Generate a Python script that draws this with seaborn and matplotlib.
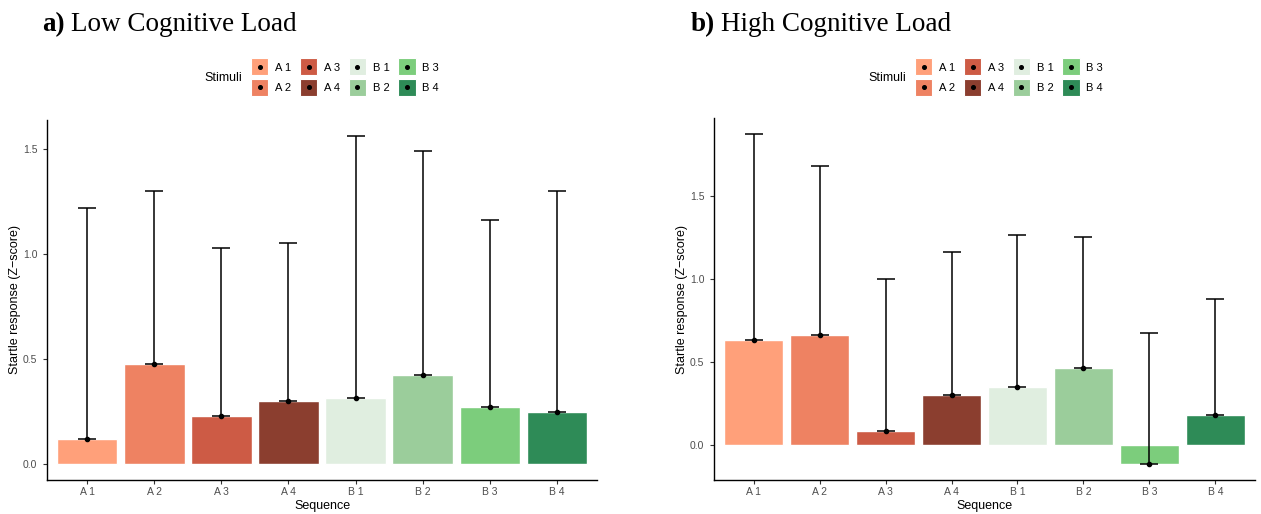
import matplotlib
matplotlib.use("Agg")
import matplotlib.pyplot as plt
import seaborn as sns
import pandas as pd
import numpy as np
from matplotlib.patches import Patch, Rectangle
from matplotlib.lines import Line2D
from matplotlib.legend_handler import HandlerBase

# ---- data ----
sequence = ["A 1", "A 2", "A 3", "A 4", "B 1", "B 2", "B 3", "B 4"]
low_mean = [0.118, 0.476, 0.225, 0.296, 0.311, 0.421, 0.272, 0.248]
low_upper = [1.215, 1.296, 1.027, 1.052, 1.558, 1.486, 1.162, 1.300]
high_mean = [0.636, 0.662, 0.087, 0.300, 0.348, 0.463, -0.109, 0.181]
high_upper = [1.868, 1.678, 0.998, 1.162, 1.264, 1.252, 0.676, 0.881]
colors = ["#FFA07A", "#EE8262", "#CD5B45", "#8B3E2F",
          "#E0EEE0", "#9BCD9B", "#7CCD7C", "#2E8B57"]
yticks = [0.0, 0.5, 1.0, 1.5]

sns.set_theme(style="white")
plt.rcParams['font.family'] = ['Liberation Sans', 'DejaVu Sans']
plt.rcParams['text.color'] = 'black'

fig = plt.figure(figsize=(12.61, 5.14), dpi=100)
W, H = 1261, 514
ax1 = fig.add_axes([47 / W, 1 - 480 / H, (597 - 47) / W, (480 - 120) / H])
ax2 = fig.add_axes([714 / W, 1 - 480 / H, (1255 - 714) / W, (480 - 118) / H])

palette = dict(zip(sequence, colors))

def draw(ax, means, uppers):
    df = pd.DataFrame({"Sequence": sequence, "Mean": means, "Upper": uppers})
    sns.barplot(data=df, x="Sequence", y="Mean", hue="Sequence", palette=palette,
                order=sequence, hue_order=sequence, dodge=False, errorbar=None,
                saturation=1, width=0.9, edgecolor="white", linewidth=1,
                legend=False, ax=ax)
    xs = np.arange(len(sequence))
    m = np.array(means)
    u = np.array(uppers)
    ax.errorbar(xs, m, yerr=[np.zeros_like(m), u - m], fmt="none",
                ecolor="black", elinewidth=1.1, capsize=6.5, capthick=1.1, zorder=5)
    ax.scatter(xs, m, s=9, color="black", zorder=6)
    lo = min(0, m.min())
    hi = u.max()
    pad = (hi - lo) * 0.05
    ax.set_ylim(lo - pad, hi + pad)
    ax.set_xlim(-0.6, len(sequence) - 0.4)
    ax.set_yticks(yticks)
    ax.set_yticklabels([f"{t:.1f}" for t in yticks])
    ax.set_xlabel("Sequence", fontsize=9, color="black", labelpad=2)
    ax.set_ylabel("Startle response (Z\u2212score)", fontsize=9, color="black", labelpad=1)
    ax.tick_params(axis="both", which="both", length=3, width=0.8, color="#333333",
                   labelsize=7.5, labelcolor="#4D4D4D", pad=2, left=True, bottom=True)
    ax.tick_params(axis="y", pad=4)
    for s in ["top", "right"]:
        ax.spines[s].set_visible(False)
    for s in ["left", "bottom"]:
        ax.spines[s].set_color("black")
        ax.spines[s].set_linewidth(1.0)
    ax.grid(False)

draw(ax1, low_mean, low_upper)
draw(ax2, high_mean, high_upper)

# titles
tkw = dict(fontsize=19.5, family="Liberation Serif", va="baseline", color="black")
fig.text(42 / W, 1 - 31 / H, "a)", fontweight="bold", **tkw)
fig.text(71 / W, 1 - 31 / H, "Low Cognitive Load", **tkw)
fig.text(691 / W, 1 - 31 / H, "b)", fontweight="bold", **tkw)
fig.text(721 / W, 1 - 31 / H, "High Cognitive Load", **tkw)


class SquareDotHandler(HandlerBase):
    def __init__(self, size_pt):
        super().__init__()
        self.size = size_pt

    def create_artists(self, legend, orig_handle, xdescent, ydescent, width,
                       height, fontsize, trans):
        cx = -xdescent + width / 2
        cy = -ydescent + height / 2
        s = self.size
        rect = Rectangle((cx - s / 2, cy - s / 2), s, s,
                         facecolor=orig_handle.get_facecolor(),
                         edgecolor="white", linewidth=0.8, transform=trans)
        dot = Line2D([cx], [cy], marker="o", color="black", ms=2.6,
                     linestyle="", transform=trans)
        return [rect, dot]


handles = [Patch(facecolor=c) for c in colors]

def add_legend(x_keys, x_title):
    fig.text(x_title / W, 1 - 78 / H, "Stimuli", fontsize=9, ha="right", va="center")
    leg = fig.legend(handles, sequence, ncol=4, loc="center left",
                     bbox_to_anchor=(x_keys / W, 1 - 78 / H), frameon=False,
                     fontsize=8, handlelength=1.55, handleheight=0.7,
                     handletextpad=0.6, columnspacing=0.8, labelspacing=0.95,
                     borderpad=0, borderaxespad=0,
                     handler_map={Patch: SquareDotHandler(12.4)})
    return leg

add_legend(251, 242)
add_legend(915, 906)

fig.savefig("out.png", dpi=100)
